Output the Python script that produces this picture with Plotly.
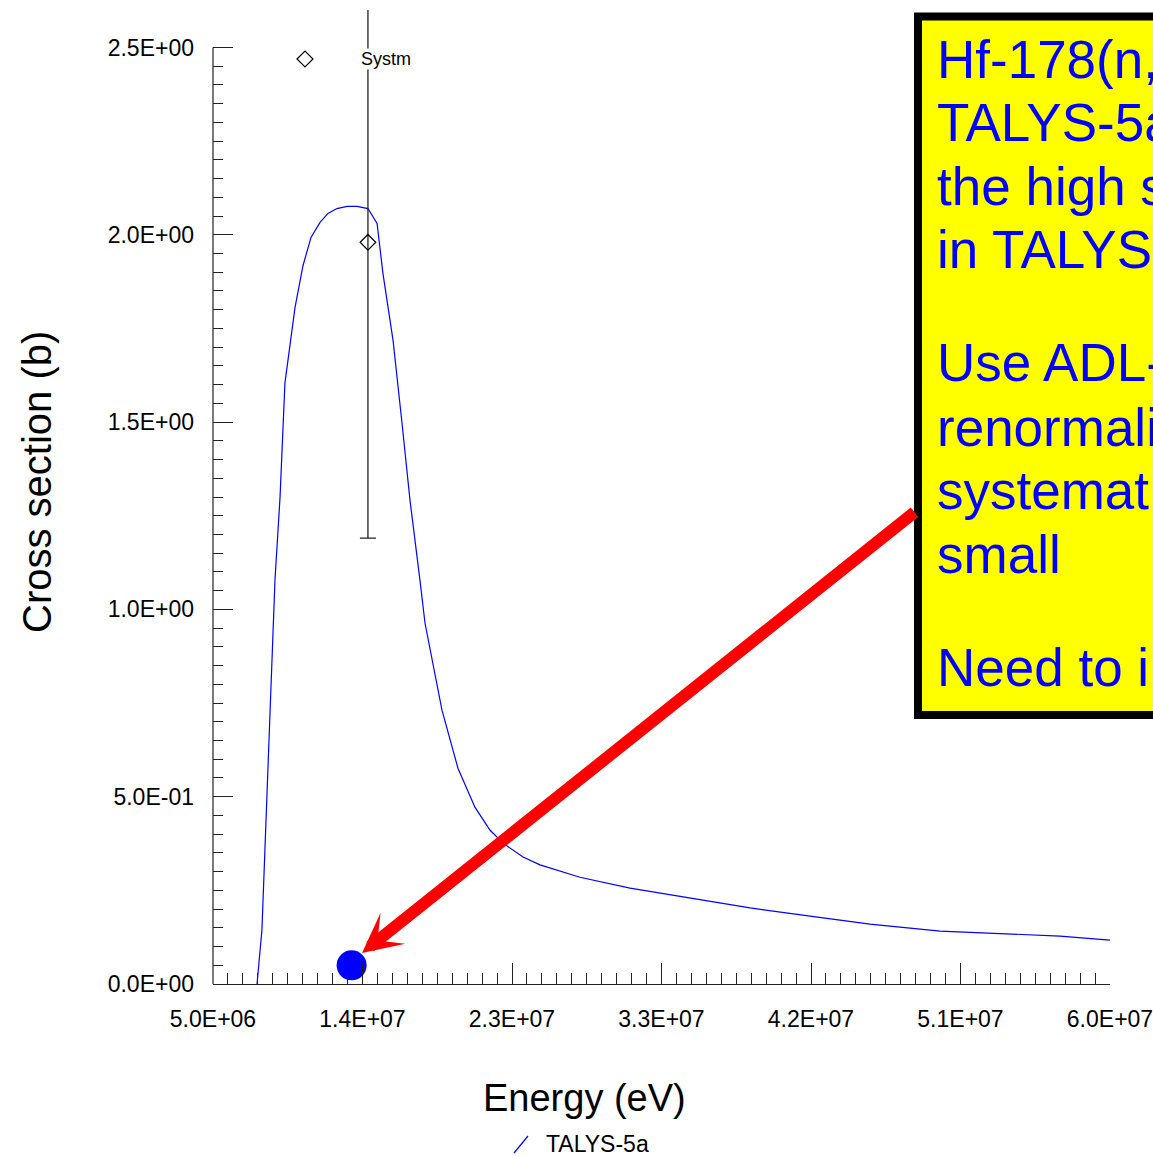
import numpy as np
import plotly.graph_objects as go

# TALYS-5a cross section curve (energy in eV, cross section in barn)
energy_ev = [7.70e6, 8.00e6, 8.19e6, 8.50e6, 8.80e6, 9.11e6, 9.41e6, 10.03e6,
             10.52e6, 11.01e6, 11.56e6, 12.05e6, 12.60e6, 13.22e6, 13.83e6,
             14.50e6, 15.06e6, 15.42e6, 16.04e6, 16.59e6, 17.08e6, 17.69e6,
             18.00e6, 19.04e6, 20.02e6, 21.06e6, 21.98e6, 22.78e6, 24.01e6,
             25.05e6, 27.50e6, 30.57e6, 34.25e6, 37.93e6, 41.61e6, 45.28e6,
             49.58e6, 53.87e6, 56.93e6, 60.0e6]
talys_xs = [0.0, 0.144, 0.366, 0.723, 1.078, 1.299, 1.604, 1.806,
            1.918, 1.993, 2.033, 2.057, 2.070, 2.076, 2.076,
            2.070, 2.030, 1.897, 1.718, 1.497, 1.291, 1.078,
            0.963, 0.731, 0.576, 0.472, 0.411, 0.376, 0.339,
            0.318, 0.285, 0.256, 0.229, 0.203, 0.181, 0.160,
            0.141, 0.133, 0.128, 0.117]

# Systematics point with its uncertainty
systm_energy = [14.5e6]
systm_xs = [1.98]
systm_err = [0.79]

# Renormalized value near 14 MeV
renorm_energy = [13.5e6]
renorm_xs = [0.05]

# Axis ticks
x_tickvals = [5.0e6, 14166666.67, 23333333.33, 32.5e6, 41666666.67, 50833333.33, 60.0e6]
x_ticktext = ["5.0E+06", "1.4E+07", "2.3E+07", "3.3E+07", "4.2E+07", "5.1E+07", "6.0E+07"]
y_tickvals = [0.0, 0.5, 1.0, 1.5, 2.0, 2.5]
y_ticktext = ["0.0E+00", "5.0E-01", "1.0E+00", "1.5E+00", "2.0E+00", "2.5E+00"]

# Note box text
note_lines = ["Hf-178(n,", "TALYS-5a", "the high s", "in TALYS",
              "Use ADL-", "renormali", "systemat", "small",
              "Need to i"]

W, H = 1153, 1157
L, R, T, B = 213, 43, 10, 173
PW, PH = W - L - R, H - T - B


def px(xp):
    return (xp - L) / PW


def py(yp):
    return (H - B - yp) / PH


SANS = "Liberation Sans, Arial, sans-serif"

fig = go.Figure()

fig.add_trace(go.Scatter(
    x=energy_ev, y=talys_xs, mode="lines",
    line=dict(color="#0000ff", width=1.2),
    name="TALYS-5a", showlegend=False, hoverinfo="skip",
))

fig.add_trace(go.Scatter(
    x=systm_energy, y=systm_xs, mode="markers",
    marker=dict(symbol="diamond-open", size=12, color="#000000",
                line=dict(width=1.2, color="#000000")),
    error_y=dict(type="data", array=systm_err, color="#222222",
                 thickness=1.3, width=8),
    name="Systm", showlegend=False,
))

fig.add_trace(go.Scatter(
    x=renorm_energy, y=renorm_xs, mode="markers",
    marker=dict(symbol="circle", size=30, color="#0000ff"),
    showlegend=False,
))

shapes = []
# left axis line (stops at the top tick)
shapes.append(dict(type="line", xref="paper", yref="y", x0=0, x1=0, y0=0, y1=2.5,
                   line=dict(color="#222222", width=1.2)))

# Systm legend symbol
cx, cy = px(305), py(59)
dx, dy = 8 / PW, 8 / PH
shapes.append(dict(type="path", xref="paper", yref="paper",
                   path=f"M {cx-dx},{cy} L {cx},{cy+dy} L {cx+dx},{cy} L {cx},{cy-dy} Z",
                   line=dict(color="#000000", width=1.2), fillcolor="rgba(0,0,0,0)"))

# TALYS-5a legend symbol
shapes.append(dict(type="line", xref="paper", yref="paper",
                   x0=px(514), y0=py(1153), x1=px(528), y1=py(1136),
                   line=dict(color="#0000ff", width=1.2)))

# Note box
shapes.append(dict(type="rect", xref="paper", yref="paper",
                   x0=px(918), x1=px(1200), y0=py(715), y1=py(16.5),
                   line=dict(color="#000000", width=8), fillcolor="#ffff00",
                   layer="above"))

annotations = []
annotations.append(dict(text="Energy (eV)", xref="paper", yref="paper",
                        x=px(584), y=py(1098), xanchor="center", yanchor="middle",
                        showarrow=False,
                        font=dict(family=SANS, size=38, color="#000000")))
annotations.append(dict(text="Cross section (b)", xref="paper", yref="paper",
                        x=px(37), y=py(482), xanchor="center", yanchor="middle",
                        showarrow=False, textangle=-90,
                        font=dict(family=SANS, size=40, color="#000000")))
annotations.append(dict(text="TALYS-5a", xref="paper", yref="paper",
                        x=px(544), y=py(1144), xanchor="left", yanchor="middle",
                        showarrow=False,
                        font=dict(family=SANS, size=23, color="#000000")))
annotations.append(dict(text="Systm", xref="paper", yref="paper",
                        x=px(360), y=py(59), xanchor="left", yanchor="middle",
                        showarrow=False, bgcolor="#ffffff", borderpad=0,
                        font=dict(family=SANS, size=18, color="#000000")))

# red arrow pointing at the renormalized value
annotations.append(dict(text="", xref="paper", yref="paper",
                        x=px(362), y=py(953), ax=916 - 362, ay=511 - 953,
                        showarrow=True, arrowhead=3, arrowsize=0.55,
                        arrowwidth=12, arrowcolor="#ff0000", standoff=0))

line_y = [59, 122, 186, 249, 362, 427, 491, 554, 667]
for txt, yy in zip(note_lines, line_y):
    annotations.append(dict(text=txt, xref="paper", yref="paper",
                            x=px(935), y=py(yy), xanchor="left", yanchor="middle",
                            showarrow=False,
                            font=dict(family=SANS, size=53, color="#0000ff")))

fig.update_layout(
    width=W, height=H,
    margin=dict(l=L, r=R, t=T, b=B, pad=0, autoexpand=False),
    paper_bgcolor="#ffffff", plot_bgcolor="#ffffff",
    showlegend=False,
    shapes=shapes, annotations=annotations,
    xaxis=dict(
        range=[5e6, 60e6], tickmode="array", tickvals=x_tickvals, ticktext=x_ticktext,
        ticks="inside", ticklen=21, tickwidth=1.2, tickcolor="#222222",
        showline=True, linecolor="#222222", linewidth=1.2, automargin=False,
        showgrid=False, zeroline=False, ticklabelstandoff=14,
        ticklabeloverflow="allow",
        tickfont=dict(family=SANS, size=23, color="#000000"),
        minor=dict(ticks="inside", ticklen=11, tickwidth=1.2, tickcolor="#222222",
                   tickmode="linear", tick0=5e6, dtick=55e6 / 60, showgrid=False),
    ),
    yaxis=dict(
        range=[0, 2.6], tickmode="array", tickvals=y_tickvals, ticktext=y_ticktext,
        ticks="inside", ticklen=20, tickwidth=1.2, tickcolor="#222222",
        showline=False, showgrid=False, zeroline=False, ticklabelstandoff=18,
        automargin=False, ticklabeloverflow="allow",
        tickfont=dict(family=SANS, size=23, color="#000000"),
        minor=dict(ticks="inside", ticklen=10, tickwidth=1.2, tickcolor="#222222",
                   tickmode="array", tickvals=list(np.round(np.arange(0.05, 2.5, 0.05), 2)),
                   showgrid=False),
    ),
)

fig.write_html("out.html")
